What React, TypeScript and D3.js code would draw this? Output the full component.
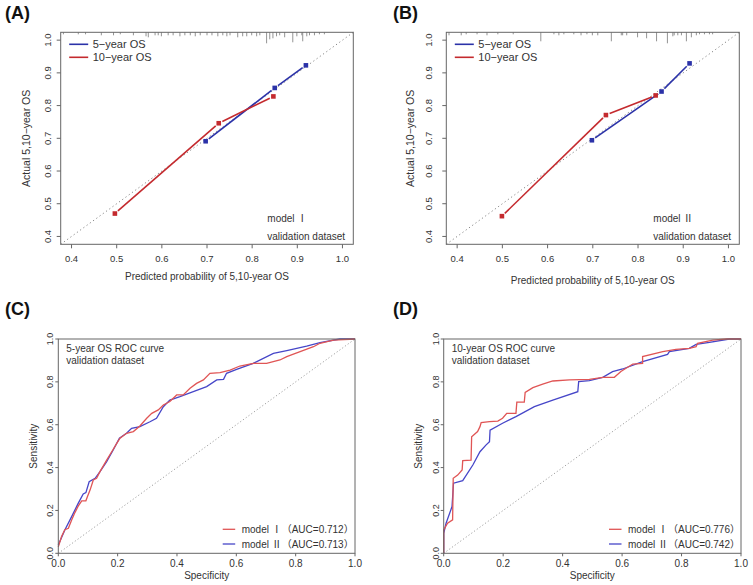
import React from 'react';
import * as d3 from 'd3';

// ---------- data ----------
const calTicks = [0.4, 0.5, 0.6, 0.7, 0.8, 0.9, 1.0];
const rocTicks = [0, 0.2, 0.4, 0.6, 0.8, 1.0];

const calA5Pred = [0.697, 0.850, 0.919];
const calA5Obs = [0.691, 0.854, 0.923];
const calA10Pred = [0.496, 0.726, 0.847];
const calA10Obs = [0.470, 0.746, 0.828];

const calB5Pred = [0.698, 0.852, 0.914];
const calB5Obs = [0.694, 0.843, 0.929];
const calB10Pred = [0.499, 0.729, 0.839];
const calB10Obs = [0.462, 0.771, 0.831];

const rugAPred = [0.382, 0.415, 0.431, 0.466, 0.493, 0.508, 0.537, 0.565, 0.570, 0.585, 0.592, 0.599, 0.614, 0.625, 0.640, 0.651, 0.663, 0.674, 0.685, 0.700, 0.711, 0.724, 0.735, 0.744, 0.751, 0.768, 0.779, 0.788, 0.799, 0.810, 0.817, 0.832, 0.839, 0.846, 0.854, 0.861, 0.872, 0.890, 0.899, 0.910, 0.912, 0.921, 0.927, 0.938, 0.949, 0.960];
const rugACount = [2, 2, 2, 3, 3, 2, 3, 4, 5, 3, 3, 4, 3, 3, 4, 3, 3, 4, 3, 3, 3, 4, 3, 4, 3, 5, 4, 4, 3, 4, 3, 11, 7, 6, 4, 3, 5, 10, 4, 3, 9, 4, 3, 3, 2, 2];

const rugBPred = [0.382, 0.409, 0.420, 0.444, 0.466, 0.490, 0.524, 0.585, 0.614, 0.625, 0.636, 0.658, 0.674, 0.687, 0.699, 0.711, 0.741, 0.763, 0.766, 0.775, 0.799, 0.819, 0.841, 0.865, 0.877, 0.880, 0.888, 0.896, 0.907, 0.918, 0.929, 0.936, 0.947, 0.958, 0.965];
const rugBCount = [3, 3, 2, 2, 3, 2, 2, 9, 2, 3, 2, 2, 3, 2, 3, 3, 9, 3, 3, 3, 5, 6, 9, 11, 4, 3, 3, 3, 9, 5, 3, 2, 2, 2, 2];

const rocC1Fpr = [0, 0.011, 0.022, 0.034, 0.045, 0.056, 0.067, 0.079, 0.093, 0.098, 0.107, 0.118, 0.129, 0.14, 0.163, 0.18, 0.197, 0.208, 0.23, 0.253, 0.275, 0.298, 0.315, 0.337, 0.354, 0.376, 0.399, 0.421, 0.444, 0.466, 0.489, 0.511, 0.545, 0.579, 0.612, 0.657, 0.702, 0.747, 0.77, 0.815, 0.86, 0.882, 0.927, 1];
const rocC1Tpr = [0.03, 0.078, 0.11, 0.117, 0.155, 0.19, 0.22, 0.245, 0.245, 0.264, 0.295, 0.342, 0.35, 0.38, 0.435, 0.474, 0.513, 0.537, 0.56, 0.568, 0.594, 0.63, 0.653, 0.669, 0.692, 0.708, 0.739, 0.739, 0.77, 0.793, 0.809, 0.84, 0.843, 0.855, 0.874, 0.886, 0.886, 0.902, 0.918, 0.941, 0.964, 0.98, 0.995, 1];
const rocC2Fpr = [0, 0.022, 0.045, 0.067, 0.084, 0.093, 0.104, 0.124, 0.14, 0.163, 0.185, 0.206, 0.23, 0.247, 0.275, 0.309, 0.331, 0.354, 0.376, 0.41, 0.455, 0.5, 0.534, 0.557, 0.567, 0.601, 0.657, 0.725, 0.77, 0.837, 0.882, 0.949, 1];
const rocC2Tpr = [0.039, 0.109, 0.171, 0.233, 0.277, 0.283, 0.334, 0.35, 0.38, 0.428, 0.482, 0.537, 0.56, 0.583, 0.591, 0.614, 0.63, 0.684, 0.715, 0.731, 0.754, 0.778, 0.809, 0.812, 0.84, 0.858, 0.886, 0.933, 0.946, 0.967, 0.983, 1, 1];

const rocD1Fpr = [0, 0, 0.013, 0.03, 0.032, 0.047, 0.062, 0.064, 0.092, 0.094, 0.114, 0.122, 0.126, 0.154, 0.182, 0.198, 0.212, 0.243, 0.246, 0.271, 0.274, 0.3, 0.333, 0.367, 0.423, 0.49, 0.535, 0.574, 0.596, 0.636, 0.669, 0.669, 0.737, 0.781, 0.826, 0.849, 0.854, 0.905, 0.95, 1];
const rocD1Tpr = [0, 0.109, 0.14, 0.156, 0.35, 0.365, 0.389, 0.432, 0.435, 0.544, 0.568, 0.591, 0.61, 0.614, 0.617, 0.63, 0.653, 0.653, 0.705, 0.705, 0.751, 0.773, 0.789, 0.804, 0.809, 0.812, 0.821, 0.821, 0.848, 0.883, 0.886, 0.918, 0.941, 0.952, 0.956, 0.964, 0.98, 0.995, 1, 1];
const rocD2Fpr = [0, 0, 0.008, 0.028, 0.033, 0.064, 0.098, 0.122, 0.142, 0.154, 0.156, 0.198, 0.243, 0.305, 0.367, 0.451, 0.454, 0.49, 0.535, 0.568, 0.602, 0.669, 0.753, 0.759, 0.826, 0.849, 0.894, 0.961, 1];
const rocD2Tpr = [0, 0.093, 0.14, 0.218, 0.327, 0.339, 0.412, 0.474, 0.505, 0.521, 0.575, 0.607, 0.638, 0.684, 0.715, 0.754, 0.801, 0.806, 0.821, 0.848, 0.86, 0.894, 0.928, 0.941, 0.956, 0.975, 0.984, 1, 1];

const calLegend = ['5\u2212year OS', '10\u2212year OS'];
const rocModels = ['\u2160', '\u2161'];
const rocAucC = ['0.712', '0.713'];
const rocAucD = ['0.776', '0.742'];

// ---------- styles ----------
const FONT = '"Liberation Sans", Arial, Helvetica, sans-serif';
const CJK = '"Noto Sans CJK SC", "Liberation Sans", sans-serif';
const CAL_BLUE = '#2b32a8';
const CAL_RED = '#c42a2e';
const ROC_RED = '#e05555';
const ROC_BLUE = '#4646c8';
const TXT = '#333';
const FRAME = '#666';

type Box = { x0: number; x1: number; y0: number; y1: number };

function CalPanel(props: {
  box: Box; label: string; labelX: number;
  p5: number[]; o5: number[]; p10: number[]; o10: number[];
  rug: number[]; rugN: number[]; model: string;
  yLabX: number; yTitleX: number; xTitleY: number;
}) {
  const { box, p5, o5, p10, o10, rug, rugN } = props;
  const x = d3.scaleLinear().domain([0.376, 1.024]).range([box.x0, box.x1]);
  const y = d3.scaleLinear().domain([0.376, 1.024]).range([box.y1, box.y0]);
  const rugLen = d3.scaleLinear().domain([0, d3.max(rugN) as number]).range([0, 11]);
  const gap = 4;
  const segs = (px: number[], py: number[]) => {
    const out: [number, number, number, number][] = [];
    for (let i = 0; i < px.length - 1; i++) {
      const ax = x(px[i]), ay = y(py[i]), bx = x(px[i + 1]), by = y(py[i + 1]);
      const d = Math.hypot(bx - ax, by - ay);
      const ux = (bx - ax) / d, uy = (by - ay) / d;
      out.push([ax + ux * gap, ay + uy * gap, bx - ux * gap, by - uy * gap]);
    }
    return out;
  };
  const cx = (box.x0 + box.x1) / 2;
  const cy = (box.y0 + box.y1) / 2;
  return (
    <g>
      <text x={props.labelX} y={19} fontSize={18} fontWeight="bold" fill="#111" fontFamily={FONT}>{props.label}</text>
      <line x1={x(0.376)} y1={y(0.376)} x2={x(1.024)} y2={y(1.024)} stroke="#777" strokeWidth={0.9} strokeDasharray="1.2,2.8" />
      {rug.map((v, i) => (
        <line key={'r' + i} x1={x(v)} x2={x(v)} y1={box.y0} y2={box.y0 + rugLen(rugN[i])} stroke="#777" strokeWidth={0.8} />
      ))}
      {segs(p5, o5).map((s, i) => (
        <line key={'b' + i} x1={s[0]} y1={s[1]} x2={s[2]} y2={s[3]} stroke={CAL_BLUE} strokeWidth={1.6} />
      ))}
      {segs(p10, o10).map((s, i) => (
        <line key={'rr' + i} x1={s[0]} y1={s[1]} x2={s[2]} y2={s[3]} stroke={CAL_RED} strokeWidth={1.6} />
      ))}
      {p5.map((v, i) => (
        <rect key={'bp' + i} x={x(v) - 2.3} y={y(o5[i]) - 2.3} width={4.6} height={4.6} fill={CAL_BLUE} />
      ))}
      {p10.map((v, i) => (
        <rect key={'rp' + i} x={x(v) - 2.3} y={y(o10[i]) - 2.3} width={4.6} height={4.6} fill={CAL_RED} />
      ))}
      <rect x={box.x0} y={box.y0} width={box.x1 - box.x0} height={box.y1 - box.y0} fill="none" stroke={FRAME} strokeWidth={1} />
      {calTicks.map((t) => (
        <g key={'xt' + t}>
          <line x1={x(t)} x2={x(t)} y1={box.y1} y2={box.y1 + 4} stroke={FRAME} />
          <text x={x(t)} y={box.y1 + 18} textAnchor="middle" fontSize={9.5} fill={TXT} fontFamily={FONT}>{t.toFixed(1)}</text>
        </g>
      ))}
      {calTicks.map((t) => (
        <g key={'yt' + t}>
          <line x1={box.x0 - 4} x2={box.x0} y1={y(t)} y2={y(t)} stroke={FRAME} />
          <text transform={`translate(${props.yLabX},${y(t)}) rotate(-90)`} textAnchor="middle" fontSize={9.5} fill={TXT} fontFamily={FONT}>{t.toFixed(1)}</text>
        </g>
      ))}
      <text x={cx} y={props.xTitleY} textAnchor="middle" fontSize={10} fill={TXT} fontFamily={FONT}>Predicted probability of 5,10-year OS</text>
      <text transform={`translate(${props.yTitleX},${cy}) rotate(-90)`} textAnchor="middle" fontSize={10.5} fill={TXT} fontFamily={FONT}>Actual 5,10−year OS</text>
      {calLegend.map((l, i) => (
        <g key={'lg' + i}>
          <line x1={box.x0 + 8.5} x2={box.x0 + 27.5} y1={box.y0 + 12 + i * 13} y2={box.y0 + 12 + i * 13} stroke={i === 0 ? CAL_BLUE : CAL_RED} strokeWidth={1.6} />
          <text x={box.x0 + 32} y={box.y0 + 16 + i * 13} fontSize={11} fill={TXT} fontFamily={FONT}>{l}</text>
        </g>
      ))}
      <text x={box.x1 - 86} y={box.y1 - 22} fontSize={10} fill={TXT} fontFamily={FONT}>
        model <tspan fontFamily={CJK}>{props.model}</tspan>
      </text>
      <text x={box.x1 - 86} y={box.y1 - 4} fontSize={10} fill={TXT} fontFamily={FONT}>validation dataset</text>
    </g>
  );
}

function RocPanel(props: {
  box: Box; label: string; labelX: number;
  f1: number[]; t1: number[]; f2: number[]; t2: number[];
  title: string; auc: string[]; legX: number;
  yLabX: number; yTitleX: number;
}) {
  const { box } = props;
  const x = d3.scaleLinear().domain([0, 1]).range([box.x0, box.x1]);
  const y = d3.scaleLinear().domain([0, 1]).range([box.y1, box.y0]);
  const line = d3.line<[number, number]>().x((d) => x(d[0])).y((d) => y(d[1]));
  const pts = (f: number[], t: number[]) => f.map((v, i) => [v, t[i]] as [number, number]);
  const cx = (box.x0 + box.x1) / 2;
  const cy = (box.y0 + box.y1) / 2;
  return (
    <g>
      <text x={props.labelX} y={315} fontSize={18} fontWeight="bold" fill="#111" fontFamily={FONT}>{props.label}</text>
      <line x1={x(0)} y1={y(0)} x2={x(1)} y2={y(1)} stroke="#888" strokeWidth={0.8} strokeDasharray="1.2,2.2" />
      <path d={line(pts(props.f2, props.t2)) as string} fill="none" stroke={ROC_BLUE} strokeWidth={1.3} />
      <path d={line(pts(props.f1, props.t1)) as string} fill="none" stroke={ROC_RED} strokeWidth={1.3} />
      <rect x={box.x0} y={box.y0} width={box.x1 - box.x0} height={box.y1 - box.y0} fill="none" stroke={FRAME} strokeWidth={1} />
      {rocTicks.map((t) => (
        <g key={'xt' + t}>
          <line x1={x(t)} x2={x(t)} y1={box.y1} y2={box.y1 + 3} stroke={FRAME} />
          <text x={x(t)} y={box.y1 + 14} textAnchor="middle" fontSize={10} fill={TXT} fontFamily={FONT}>{t.toFixed(1)}</text>
        </g>
      ))}
      {rocTicks.map((t) => (
        <g key={'yt' + t}>
          <line x1={box.x0 - 3} x2={box.x0} y1={y(t)} y2={y(t)} stroke={FRAME} />
          <text transform={`translate(${props.yLabX},${y(t)}) rotate(-90)`} textAnchor="middle" fontSize={9} fill={TXT} fontFamily={FONT}>{t.toFixed(1)}</text>
        </g>
      ))}
      <text x={cx} y={box.y1 + 26} textAnchor="middle" fontSize={10} fill={TXT} fontFamily={FONT}>Specificity</text>
      <text transform={`translate(${props.yTitleX},${cy}) rotate(-90)`} textAnchor="middle" fontSize={10} fill={TXT} fontFamily={FONT}>Sensitivity</text>
      <text x={box.x0 + 8} y={box.y0 + 13} fontSize={10} fill={TXT} fontFamily={FONT}>{props.title}</text>
      <text x={box.x0 + 8} y={box.y0 + 25} fontSize={10} fill={TXT} fontFamily={FONT}>validation dataset</text>
      {rocModels.map((m, i) => (
        <g key={'lg' + i}>
          <line x1={props.legX} x2={props.legX + 12.5} y1={box.y1 - 24 + i * 14.7} y2={box.y1 - 24 + i * 14.7} stroke={i === 0 ? ROC_RED : ROC_BLUE} strokeWidth={1.3} />
          <text x={props.legX + 19} y={box.y1 - 20.5 + i * 14.7} fontSize={10} fill={TXT} fontFamily={FONT}>
            model <tspan fontFamily={CJK}>{m}（</tspan>AUC={props.auc[i]}<tspan fontFamily={CJK}>）</tspan>
          </text>
        </g>
      ))}
    </g>
  );
}

export default function App() {
  return (
    <svg width={753} height={585} style={{ position: 'absolute', left: 0, top: 0, background: '#fff' }}>
      <rect width={753} height={585} fill="#fff" />
      <CalPanel box={{ x0: 60.7, x1: 353.3, y0: 32.3, y1: 244.3 }} label="(A)" labelX={5}
        p5={calA5Pred} o5={calA5Obs} p10={calA10Pred} o10={calA10Obs}
        rug={rugAPred} rugN={rugACount} model={'\u2160'}
        yLabX={51} yTitleX={30} xTitleY={280} />
      <CalPanel box={{ x0: 446.3, x1: 739.3, y0: 32.3, y1: 244.3 }} label="(B)" labelX={393}
        p5={calB5Pred} o5={calB5Obs} p10={calB10Pred} o10={calB10Obs}
        rug={rugBPred} rugN={rugBCount} model={'\u2161'}
        yLabX={432} yTitleX={414} xTitleY={284} />
      <RocPanel box={{ x0: 58.3, x1: 355, y0: 339, y1: 553.3 }} label="(C)" labelX={5}
        f1={rocC1Fpr} t1={rocC1Tpr} f2={rocC2Fpr} t2={rocC2Tpr}
        title="5-year OS ROC curve" auc={rocAucC} legX={222.7}
        yLabX={53} yTitleX={37} />
      <RocPanel box={{ x0: 443.7, x1: 741, y0: 339, y1: 553.3 }} label="(D)" labelX={393}
        f1={rocD1Fpr} t1={rocD1Tpr} f2={rocD2Fpr} t2={rocD2Tpr}
        title="10-year OS ROC curve" auc={rocAucD} legX={609}
        yLabX={439} yTitleX={422} />
    </svg>
  );
}
